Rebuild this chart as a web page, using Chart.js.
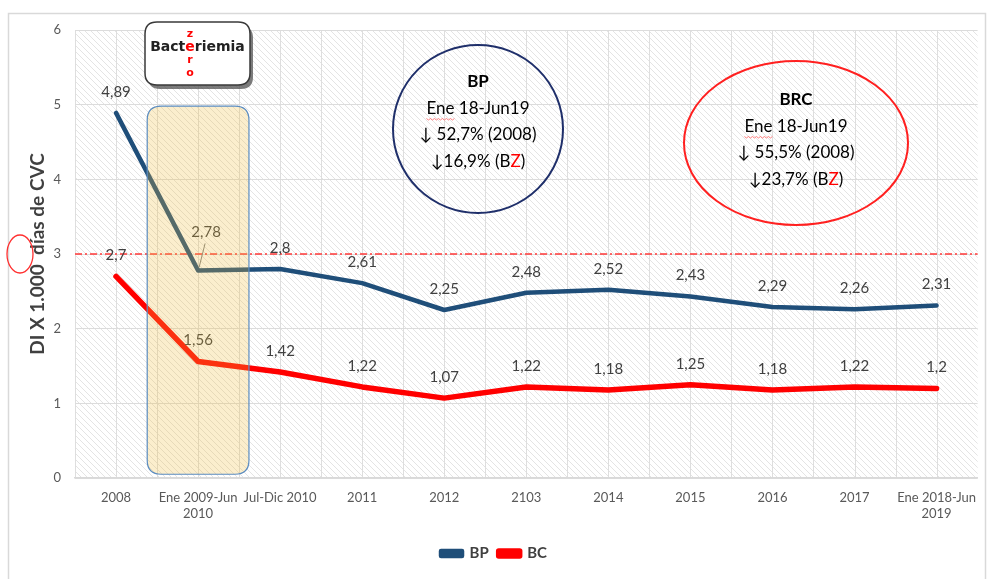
<!DOCTYPE html>
<html lang="es">
<head>
    <meta charset="UTF-8">
    <title>Bacteriemia Zero - DI x 1.000 días de CVC</title>
    <script src="https://cdn.jsdelivr.net/npm/chart.js@4.4.0/dist/chart.umd.min.js"></script>
    <style>
        html, body { margin: 0; padding: 0; background: #ffffff; }
        #wrap { position: relative; width: 988px; height: 579px; }
    </style>
</head>
<body>
    <div id="wrap"><canvas id="chart" width="988" height="579"></canvas></div>

    <script>
        // Data
        const categories = ['2008', ['Ene 2009-Jun', '2010'], 'Jul-Dic 2010', '2011', '2012', '2103',
            '2014', '2015', '2016', '2017', ['Ene 2018-Jun', '2019']];
        const bpValues = [4.89, 2.78, 2.8, 2.61, 2.25, 2.48, 2.52, 2.43, 2.29, 2.26, 2.31];
        const bcValues = [2.7, 1.56, 1.42, 1.22, 1.07, 1.22, 1.18, 1.25, 1.18, 1.22, 1.2];
        const yTicks = [0, 1, 2, 3, 4, 5, 6];
        const targetLevel = 3;

        const bpNote = ['BP', 'Ene 18-Jun19', '\u2193 52,7% (2008)', '\u219316,9% (BZ)'];
        const brcNote = ['BRC', 'Ene 18-Jun19', '\u2193 55,5% (2008)', '\u219323,7% (BZ)'];

        const BLUE = '#1f4e79';
        const RED = '#ff0000';
        const TEXT = '#404040';

        // diagonal hatch for the plot area
        function makeHatch() {
            const c = document.createElement('canvas');
            c.width = 6; c.height = 6;
            const g = c.getContext('2d');
            g.fillStyle = '#ffffff';
            g.fillRect(0, 0, 6, 6);
            g.strokeStyle = '#e4e4e4';
            g.lineWidth = 1;
            g.beginPath();
            g.moveTo(-1, -1); g.lineTo(7, 7);
            g.moveTo(-1, 5); g.lineTo(1, 7);
            g.moveTo(5, -1); g.lineTo(7, 1);
            g.stroke();
            return c;
        }
        const hatchCanvas = makeHatch();

        function roundRect(ctx, x, y, w, h, r) {
            ctx.beginPath();
            ctx.moveTo(x + r, y);
            ctx.lineTo(x + w - r, y);
            ctx.quadraticCurveTo(x + w, y, x + w, y + r);
            ctx.lineTo(x + w, y + h - r);
            ctx.quadraticCurveTo(x + w, y + h, x + w - r, y + h);
            ctx.lineTo(x + r, y + h);
            ctx.quadraticCurveTo(x, y + h, x, y + h - r);
            ctx.lineTo(x, y + r);
            ctx.quadraticCurveTo(x, y, x + r, y);
            ctx.closePath();
        }

        // background, frame, vertical grid, target line
        const backgroundPlugin = {
            id: 'backgroundPlugin',
            beforeDraw(chart) {
                const ctx = chart.ctx;
                const a = chart.chartArea;
                const xs = chart.scales.x;
                ctx.save();
                ctx.fillStyle = '#ffffff';
                ctx.fillRect(0, 0, chart.width, chart.height);
                ctx.strokeStyle = '#d9d9d9';
                ctx.lineWidth = 1.5;
                ctx.strokeRect(8.5, 13.5, chart.width - 11, chart.height);

                ctx.fillStyle = ctx.createPattern(hatchCanvas, 'repeat');
                ctx.fillRect(a.left, a.top, a.right - a.left, a.bottom - a.top);

                // vertical grid at centers and boundaries
                const step = xs.getPixelForValue(1) - xs.getPixelForValue(0);
                ctx.strokeStyle = '#dedede';
                ctx.lineWidth = 1;
                ctx.beginPath();
                for (let i = 0; i < categories.length; i++) {
                    const cx = xs.getPixelForValue(i);
                    [cx - step / 2, cx].forEach(function (px) {
                        ctx.moveTo(Math.round(px) + 0.5, a.top);
                        ctx.lineTo(Math.round(px) + 0.5, a.bottom);
                    });
                }
                ctx.stroke();
                ctx.restore();
            },
            beforeDatasetsDraw(chart) {
                const ctx = chart.ctx;
                const a = chart.chartArea;
                const y3 = chart.scales.y.getPixelForValue(targetLevel);
                ctx.save();
                ctx.strokeStyle = '#ff3838';
                ctx.lineWidth = 1.3;
                ctx.setLineDash([7, 3, 2, 3]);
                ctx.beginPath();
                ctx.moveTo(a.left, y3);
                ctx.lineTo(a.right, y3);
                ctx.stroke();
                ctx.setLineDash([]);
                // circle round the 3 tick
                ctx.strokeStyle = '#ff3030';
                ctx.lineWidth = 1.3;
                ctx.beginPath();
                ctx.ellipse(20, y3, 13, 19, 0, 0, Math.PI * 2);
                ctx.stroke();
                ctx.restore();
            }
        };

        // value labels above points
        const labelPlugin = {
            id: 'labelPlugin',
            afterDatasetsDraw(chart) {
                const ctx = chart.ctx;
                ctx.save();
                ctx.font = '15px Lato, "Open Sans", sans-serif';
                ctx.fillStyle = TEXT;
                ctx.textAlign = 'center';
                ctx.textBaseline = 'middle';
                chart.data.datasets.forEach(function (ds, di) {
                    const meta = chart.getDatasetMeta(di);
                    meta.data.forEach(function (pt, i) {
                        const txt = String(ds.data[i]).replace('.', ',');
                        let dx = 0, dy = -21;
                        if (di === 0 && i === 1) {
                            dx = 8; dy = -38;
                            ctx.strokeStyle = '#7f7f7f';
                            ctx.lineWidth = 1;
                            ctx.beginPath();
                            ctx.moveTo(pt.x + 7, pt.y - 27);
                            ctx.lineTo(pt.x + 1, pt.y - 3);
                            ctx.stroke();
                        }
                        ctx.fillText(txt, pt.x + dx, pt.y + dy);
                    });
                });
                ctx.restore();
            }
        };

        function drawNote(ctx, lines, cx, cy, rx, ry, color, textTop) {
            ctx.save();
            ctx.strokeStyle = color;
            ctx.lineWidth = 2;
            ctx.beginPath();
            ctx.ellipse(cx, cy, rx, ry, 0, 0, Math.PI * 2);
            ctx.stroke();
            ctx.textAlign = 'center';
            ctx.textBaseline = 'middle';
            ctx.fillStyle = '#000000';
            lines.forEach(function (line, i) {
                const y = textTop + i * 26.5;
                if (i === 0) {
                    ctx.font = 'bold 17px Lato, "Open Sans", sans-serif';
                    ctx.fillText(line, cx, y);
                } else if (i === 3) {
                    ctx.font = '17px Lato, "Open Sans", sans-serif';
                    const base = line.slice(0, -2);
                    const w = ctx.measureText(line).width;
                    let x = cx - w / 2;
                    ctx.textAlign = 'left';
                    ctx.fillStyle = '#000000';
                    ctx.fillText(base, x, y);
                    x += ctx.measureText(base).width;
                    ctx.fillStyle = '#ff0000';
                    ctx.fillText('Z', x, y);
                    x += ctx.measureText('Z').width;
                    ctx.fillStyle = '#000000';
                    ctx.fillText(')', x, y);
                    ctx.textAlign = 'center';
                } else {
                    ctx.font = '17px Lato, "Open Sans", sans-serif';
                    ctx.fillText(line, cx, y);
                    if (i === 1) {
                        // spell-check squiggle under "Ene"
                        const w = ctx.measureText(line).width;
                        const x0 = cx - w / 2;
                        const wEne = ctx.measureText('Ene').width;
                        ctx.strokeStyle = '#ff6060';
                        ctx.lineWidth = 0.8;
                        ctx.beginPath();
                        for (let k = 0; k <= wEne; k += 2) {
                            const yy = y + 10 + ((k / 2) % 2 === 0 ? 0 : 1.5);
                            if (k === 0) ctx.moveTo(x0 + k, yy); else ctx.lineTo(x0 + k, yy);
                        }
                        ctx.stroke();
                    }
                }
            });
            ctx.restore();
        }

        // highlight box, logo and notes
        const overlayPlugin = {
            id: 'overlayPlugin',
            afterDraw(chart) {
                const ctx = chart.ctx;
                const xs = chart.scales.x;
                const ys = chart.scales.y;
                const step = xs.getPixelForValue(1) - xs.getPixelForValue(0);
                const cx = xs.getPixelForValue(1);
                const left = cx - step * 0.62;
                const right = cx + step * 0.62;
                const top = ys.getPixelForValue(4.98);
                const bottom = ys.getPixelForValue(0.05);

                ctx.save();
                roundRect(ctx, left, top, right - left, bottom - top, 14);
                ctx.fillStyle = 'rgba(240, 190, 60, 0.26)';
                ctx.fill();
                ctx.strokeStyle = '#5b8cc0';
                ctx.lineWidth = 1.2;
                ctx.stroke();

                // Bacteriemia Zero logo
                const lx = 145, ly = 22, lw = 105, lh = 63;
                ctx.fillStyle = 'rgba(80,80,80,0.75)';
                roundRect(ctx, lx + 3, ly + 4, lw, lh, 12);
                ctx.fill();
                ctx.fillStyle = '#ffffff';
                roundRect(ctx, lx, ly, lw, lh, 12);
                ctx.fill();
                ctx.strokeStyle = '#3a3a3a';
                ctx.lineWidth = 1.5;
                ctx.stroke();

                ctx.font = 'bold 14px "DejaVu Sans", sans-serif';
                ctx.textBaseline = 'middle';
                ctx.textAlign = 'left';
                const word1 = 'Bact', word2 = 'e', word3 = 'riemia';
                const full = ctx.measureText(word1 + word2 + word3).width;
                let x = lx + lw / 2 - full / 2;
                const wy = 47;
                ctx.fillStyle = '#222222';
                ctx.fillText(word1, x, wy);
                x += ctx.measureText(word1).width;
                const ew = ctx.measureText(word2).width;
                const colX = x + ew / 2;
                ctx.fillStyle = '#ff0000';
                ctx.fillText(word2, x, wy);
                x += ew;
                ctx.fillStyle = '#222222';
                ctx.fillText(word3, x, wy);
                ctx.textAlign = 'center';
                ctx.fillStyle = '#ff0000';
                ctx.font = 'bold 11px "DejaVu Sans", sans-serif';
                ctx.fillText('z', colX, wy - 13);
                ctx.fillText('r', colX, wy + 13);
                ctx.fillText('o', colX, wy + 26);
                ctx.restore();

                drawNote(ctx, bpNote, 478, 129, 85, 84, '#1f2f6a', 82);
                drawNote(ctx, brcNote, 796, 143, 112, 82, '#ff2020', 100);
            }
        };

        const ctx = document.getElementById('chart').getContext('2d');
        const chart = new Chart(ctx, {
            type: 'line',
            data: {
                labels: categories,
                datasets: [{
                    label: 'BP',
                    data: bpValues,
                    borderColor: BLUE,
                    backgroundColor: BLUE,
                    borderWidth: 4.5,
                    pointRadius: 0,
                    fill: false,
                    tension: 0,
                    borderJoinStyle: 'round',
                    borderCapStyle: 'round'
                }, {
                    label: 'BC',
                    data: bcValues,
                    borderColor: RED,
                    backgroundColor: RED,
                    borderWidth: 5.5,
                    pointRadius: 0,
                    fill: false,
                    tension: 0,
                    borderJoinStyle: 'round',
                    borderCapStyle: 'round'
                }]
            },
            options: {
                responsive: false,
                animation: false,
                layout: { padding: { left: 0, right: 0, top: 30, bottom: 8 } },
                plugins: {
                    legend: {
                        position: 'bottom',
                        labels: {
                            boxWidth: 21,
                            boxHeight: 5,
                            padding: 10,
                            color: TEXT,
                            font: { family: 'Lato, "Open Sans", sans-serif', size: 15, weight: 'bold' }
                        }
                    },
                    tooltip: { enabled: false }
                },
                scales: {
                    x: {
                        offset: true,
                        grid: { display: false, drawTicks: false },
                        border: { display: true, color: '#d9d9d9', width: 1.5 },
                        ticks: {
                            color: '#595959',
                            padding: 12,
                            maxRotation: 0,
                            autoSkip: false,
                            font: { family: 'Lato, "Open Sans", sans-serif', size: 13 }
                        },
                        afterFit(scale) { scale.height = 58; }
                    },
                    y: {
                        min: 0,
                        max: 6,
                        afterBuildTicks(scale) {
                            scale.ticks = yTicks.map(function (v) { return { value: v }; });
                        },
                        grid: { color: '#dcdcdc', drawTicks: false },
                        border: { display: false },
                        ticks: {
                            color: '#595959',
                            padding: 14,
                            font: { family: 'Lato, "Open Sans", sans-serif', size: 13 }
                        },
                        title: {
                            display: true,
                            text: 'DI X 1.000  días de CVC',
                            color: TEXT,
                            padding: { top: 26, bottom: 0 },
                            font: { family: 'Lato, "Open Sans", sans-serif', size: 19, weight: 'bold' }
                        },
                        afterFit(scale) { scale.width = 75; }
                    }
                }
            },
            plugins: [backgroundPlugin, labelPlugin, overlayPlugin]
        });
    </script>
</body>
</html>
